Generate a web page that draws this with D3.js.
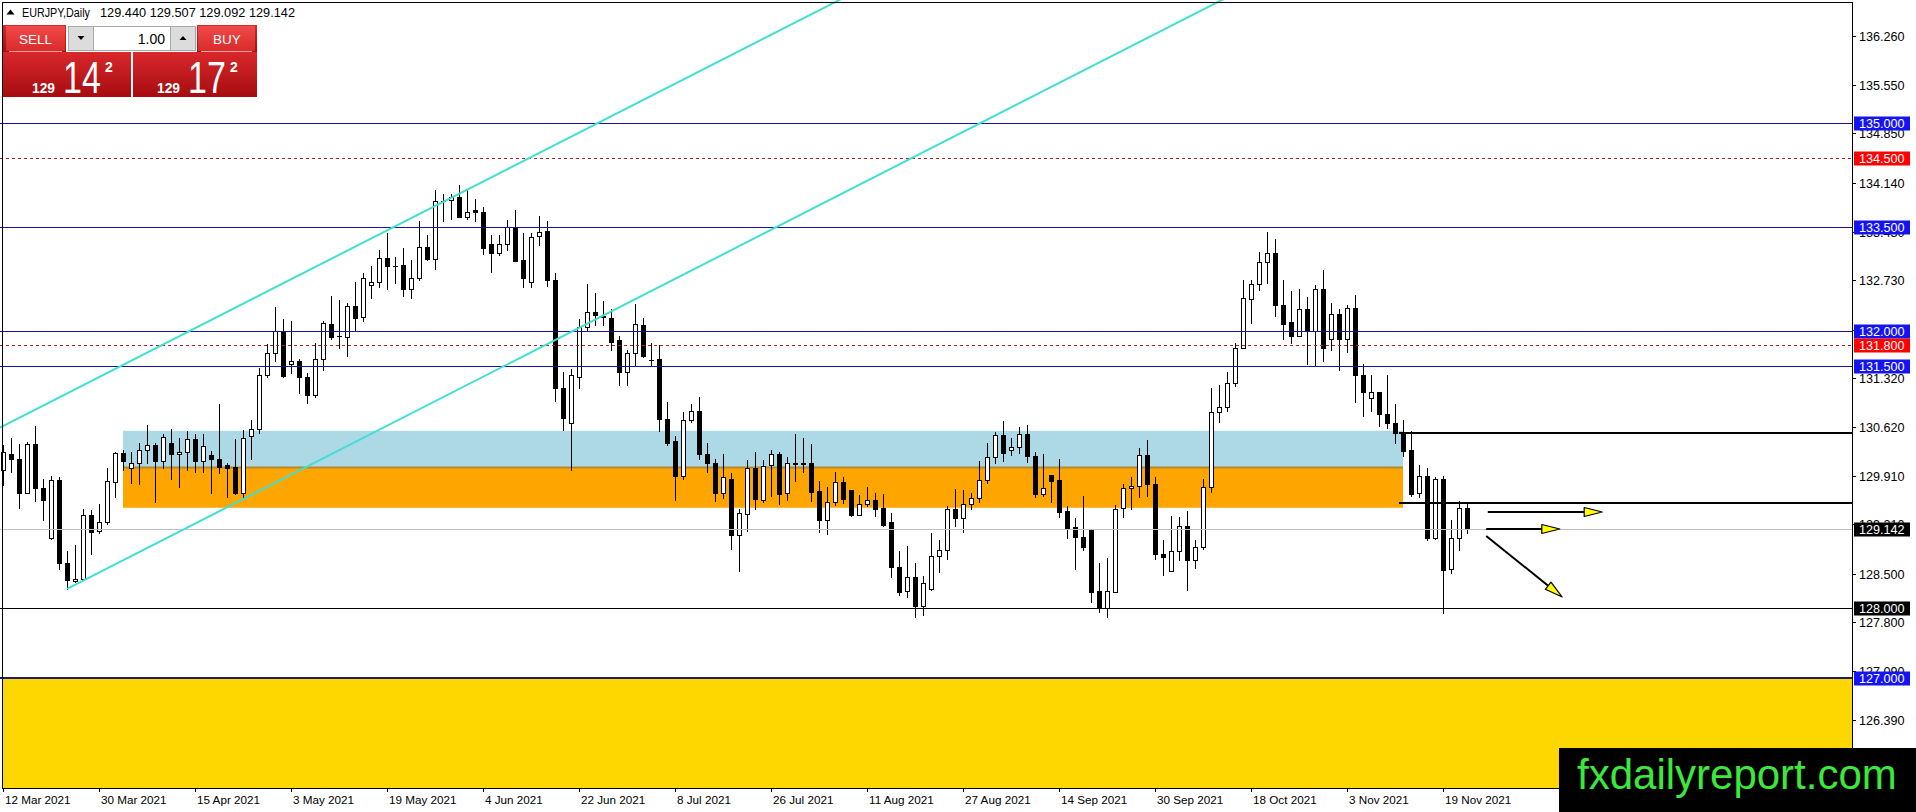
<!DOCTYPE html>
<html><head><meta charset="utf-8">
<script src="https://cdn.jsdelivr.net/npm/d3@7"></script>
<style>
html,body{margin:0;padding:0;background:#fff;overflow:hidden}
svg{display:block}
</style></head><body>
<svg id="chart" width="1916" height="812"></svg>
<script>
// ---------------- DATA ----------------
const symbolName = "EURJPY,Daily";
const lastOHLC = [129.440, 129.507, 129.092, 129.142];

// daily candles, bar 0 = 12 Mar 2021 ... bar 183 = 24 Nov 2021
const openP = [129.99,130.22,130.15,129.67,130.37,129.73,129.01,129.85,128.65,128.40,128.43,129.34,129.11,129.25,129.82,130.24,130.03,130.09,130.28,130.35,
130.12,130.38,130.22,130.26,130.44,130.12,130.21,130.16,130.07,130.04,129.66,130.48,130.58,131.37,131.68,131.98,131.52,131.57,131.33,131.07,
131.59,132.10,131.93,131.91,132.36,132.20,132.66,132.70,133.05,132.94,132.95,132.60,132.77,133.21,133.03,133.88,133.89,133.93,133.64,133.74,
133.71,133.25,133.13,133.25,133.50,133.02,132.70,133.37,133.44,132.74,131.17,130.67,131.34,132.06,132.27,132.22,132.18,131.87,131.41,131.68,
132.09,131.58,131.60,130.73,130.41,129.91,130.72,130.85,130.22,130.10,129.67,129.87,129.06,129.36,130.02,129.56,130.06,130.22,129.66,130.09,
130.09,130.09,129.69,129.28,129.53,129.82,129.71,129.35,129.51,129.56,129.44,129.24,128.59,128.25,128.45,128.04,128.28,128.76,128.84,129.43,
129.30,129.51,129.59,129.85,130.18,130.50,130.29,130.32,130.51,130.20,129.65,129.92,129.85,129.40,129.17,129.03,129.13,128.25,128.00,128.24,
129.44,129.73,129.76,130.21,129.79,128.79,128.54,128.83,129.19,128.70,128.88,129.75,130.83,130.91,131.25,131.76,132.46,132.67,132.99,133.12,
132.38,132.13,131.93,132.31,132.00,132.61,131.88,132.24,131.89,132.33,131.37,131.03,131.12,130.80,130.67,130.52,130.28,129.66,129.91,129.02,
129.86,128.56,129.01,129.440];
const highP = [130.36,130.45,130.37,130.40,130.63,129.87,129.91,129.89,128.83,128.91,129.43,129.42,129.51,130.02,130.25,130.29,130.25,130.38,130.65,130.39,
130.52,130.58,130.46,130.56,130.51,130.51,130.27,130.95,130.10,130.44,130.57,130.72,131.46,131.81,132.35,132.17,132.14,131.60,131.39,131.82,
132.15,132.50,132.45,132.40,132.71,132.83,132.94,133.17,133.41,133.06,133.19,133.02,133.59,133.39,134.03,133.98,133.98,134.10,134.03,133.90,
133.79,133.38,133.38,133.60,133.74,133.41,133.41,133.66,133.58,132.84,131.41,131.45,132.17,132.68,132.55,132.43,132.31,131.93,131.73,132.39,
132.18,131.83,131.80,130.98,130.49,130.83,130.95,131.05,130.38,130.15,130.23,129.95,129.43,130.14,130.25,130.14,130.29,130.25,130.18,130.51,
130.45,130.37,129.83,129.75,129.96,129.90,129.71,129.63,129.75,129.67,129.65,129.37,128.82,128.90,128.65,128.46,129.08,128.98,129.47,129.72,
129.71,129.67,130.12,130.39,130.54,130.70,130.45,130.62,130.65,130.26,130.23,129.92,130.15,129.47,129.30,129.62,129.13,128.65,128.72,129.49,
129.79,129.89,130.31,130.43,129.90,128.99,129.33,129.32,129.40,128.98,129.86,131.17,131.22,131.41,131.83,132.73,132.74,133.14,133.43,133.32,
132.74,132.57,132.61,132.49,132.66,132.88,132.40,132.32,132.37,132.52,131.53,131.37,131.12,131.37,130.95,130.72,130.55,130.07,130.02,129.89,
129.91,129.27,129.55,129.507];
const lowP = [129.78,129.96,129.45,129.66,129.55,129.28,129.00,128.56,128.28,128.38,128.41,128.79,129.08,129.21,129.61,130.00,129.80,129.79,130.10,129.54,
130.02,129.86,129.75,129.99,129.97,129.96,129.67,129.95,129.60,129.65,129.59,130.16,130.53,131.34,131.56,131.34,131.40,131.10,130.96,131.05,
131.44,131.89,131.76,131.64,132.01,132.15,132.47,132.64,132.60,132.69,132.50,132.48,132.73,133.02,132.89,133.58,133.62,133.64,133.62,133.59,
133.11,132.85,133.09,133.17,133.01,132.64,132.63,133.24,132.65,130.99,130.57,130.00,131.17,132.01,132.09,132.09,131.73,131.22,131.22,131.51,
131.63,131.51,130.56,130.36,129.56,129.87,130.68,130.15,129.97,129.55,129.59,128.85,128.54,129.11,129.43,129.54,129.62,129.50,129.56,129.84,
129.97,129.55,129.10,129.07,129.49,129.52,129.33,129.35,129.47,129.33,129.18,128.45,128.19,128.16,127.88,127.90,128.26,128.53,128.71,129.18,
129.10,129.43,129.54,129.81,130.10,130.12,130.21,130.24,130.11,129.61,129.62,129.54,129.31,129.01,128.56,128.84,128.09,127.94,127.87,128.23,
129.32,129.43,129.61,129.62,128.71,128.48,128.54,128.70,128.27,128.58,128.86,129.68,130.69,130.84,131.20,131.76,132.11,132.59,132.69,132.21,
131.88,131.82,131.92,131.52,131.51,131.56,131.72,131.43,131.70,130.97,130.78,130.85,130.63,130.60,130.39,130.19,129.62,129.60,128.98,129.00,
127.93,128.51,128.84,129.092];
const closeP = [130.26,130.15,129.67,130.37,129.74,129.56,129.85,128.65,128.41,128.43,129.34,129.10,129.25,129.83,130.24,130.13,130.09,130.28,130.35,130.12,
130.47,130.22,130.26,130.44,130.12,130.34,130.16,130.04,130.02,129.67,130.45,130.58,131.37,131.68,132.00,131.35,131.57,131.33,131.07,131.59,
132.11,131.91,131.92,132.36,132.19,132.77,132.70,133.05,132.94,132.94,132.61,132.77,133.21,133.03,133.87,133.88,133.93,133.64,133.72,133.71,
133.19,133.13,133.25,133.50,133.01,132.77,133.36,133.42,132.74,131.17,130.75,131.36,132.06,132.27,132.23,132.20,131.84,131.41,131.68,132.10,
131.64,131.58,130.73,130.39,129.91,130.72,130.85,130.22,130.09,129.67,129.89,129.06,129.37,130.02,129.58,130.05,130.22,129.65,130.09,130.08,
130.08,129.68,129.28,129.53,129.82,129.58,129.35,129.51,129.56,129.43,129.20,128.59,128.24,128.45,128.04,128.37,128.76,128.84,129.43,129.30,
129.51,129.59,129.85,130.18,130.50,130.24,130.32,130.51,130.19,129.65,129.73,129.84,129.39,129.16,129.03,128.88,128.23,128.00,128.25,129.43,
129.73,129.76,130.21,129.79,128.78,128.74,128.83,129.19,128.69,128.89,129.75,130.83,130.91,131.25,131.76,132.47,132.67,132.99,133.13,132.38,
132.10,131.93,132.31,132.00,132.61,131.76,132.24,131.89,132.33,131.37,131.12,131.12,130.80,130.67,130.53,130.27,129.65,129.91,129.02,129.86,
128.55,129.01,129.44,129.142];

const timeTickBars = [0,12,24,36,48,60,72,84,96,108,120,132,144,156,168,180];
const timeTickLabels = ["12 Mar 2021","30 Mar 2021","15 Apr 2021","3 May 2021","19 May 2021","4 Jun 2021","22 Jun 2021","8 Jul 2021",
  "26 Jul 2021","11 Aug 2021","27 Aug 2021","14 Sep 2021","30 Sep 2021","18 Oct 2021","3 Nov 2021","19 Nov 2021"];
const priceTicks = [136.260,135.550,134.850,134.140,133.430,132.730,132.020,131.320,130.620,129.910,129.210,128.500,127.800,127.090,126.390];

const blueLevels = [135.0, 133.5, 132.0, 131.5];
const redDottedLevels = [134.5, 131.8];
const floorLevel = 128.0;
const currentPrice = 129.142;
const goldZoneTop = 127.0;
const blueZone = [15, 175, 130.56, 130.03];     // fromBar, toBar, top, bottom
const orangeZone = [15, 175, 130.03, 129.45];
const markerLevels = [130.53, 129.52];           // black rays from bar 174.5
const markerFromBar = 174.5;
const upperChannel = [[-1, 130.57], [120, 137.68]];   // [bar, price]
const lowerChannel = [[8, 128.28], [170, 137.81]];
const arrows = [
  [[185.6, 129.389], [199.9, 129.389]],
  [[185.4, 129.144], [194.6, 129.144]],
  [[185.4, 129.043], [194.9, 128.163]]
];
const labelLevels = [135.0, 134.5, 133.5, 132.0, 131.8, 131.5, 129.142, 128.0, 127.0];
const labelKinds  = ["b","r","b","b","r","b","k","k","b"];
const sellPrice = ["129", "14", "2"];
const buyPrice  = ["129", "17", "2"];
const lotSize = "1.00";

// ---------------- LAYOUT ----------------
const W = 1916, H = 812, plotR = 1852, plotB = 788;
const svg = d3.select("#chart");
const FONT = "'Liberation Sans', Arial, sans-serif";

const x = d3.scaleLinear().domain([-0.375, 231.125]).range([0, plotR]);
const y = d3.scaleLinear().domain([125.409, 136.772]).range([plotB, 0]);

const defs = svg.append("defs");
defs.append("clipPath").attr("id","plotclip").append("rect")
  .attr("x",0).attr("y",0).attr("width",plotR).attr("height",plotB);
const g1 = defs.append("linearGradient").attr("id","boxgrad").attr("x1",0).attr("y1",0).attr("x2",0).attr("y2",1);
g1.append("stop").attr("offset","0%").attr("stop-color","#d8282c");
g1.append("stop").attr("offset","100%").attr("stop-color","#a60c10");
const g2 = defs.append("linearGradient").attr("id","btngrad").attr("x1",0).attr("y1",0).attr("x2",0).attr("y2",1);
g2.append("stop").attr("offset","0%").attr("stop-color","#f04a4a");
g2.append("stop").attr("offset","100%").attr("stop-color","#d92a2a");

svg.append("rect").attr("width",W).attr("height",H).attr("fill","#fff");

const plot = svg.append("g").attr("clip-path","url(#plotclip)");

// zones
function zone(z, color){
  plot.append("rect")
    .attr("x", x(z[0])).attr("width", x(z[1]) - x(z[0]))
    .attr("y", y(z[2])).attr("height", y(z[3]) - y(z[2]))
    .attr("fill", color);
}
zone(blueZone, "#add8e6");
zone(orangeZone, "#ffa500");
plot.append("line")
  .attr("x1", x(orangeZone[0])).attr("x2", x(orangeZone[1]))
  .attr("y1", y(orangeZone[2])).attr("y2", y(orangeZone[2]))
  .attr("stroke","#b5892c").attr("stroke-width",2);

// gold zone
plot.append("rect").attr("x", 2).attr("width", plotR - 2)
  .attr("y", y(goldZoneTop)).attr("height", plotB - y(goldZoneTop)).attr("fill","#ffd700");

// candles
const idx = d3.range(openP.length);
const cg = plot.append("g").attr("shape-rendering","crispEdges");
idx.forEach(i => {
  const cx = Math.round(x(i));
  const o = openP[i], c = closeP[i], h = highP[i], l = lowP[i];
  cg.append("line").attr("x1", cx + 0.5).attr("x2", cx + 0.5)
    .attr("y1", Math.round(y(h))).attr("y2", Math.round(y(l)) + 1)
    .attr("stroke","#000").attr("stroke-width",1);
  const top = Math.round(y(Math.max(o, c))), bot = Math.round(y(Math.min(o, c)));
  if (bot - top < 1) {
    cg.append("rect").attr("x", cx - 2).attr("y", top).attr("width", 5).attr("height", 1).attr("fill","#000");
  } else if (c >= o) {
    cg.append("rect").attr("x", cx - 1.5).attr("y", top + 0.5).attr("width", 4).attr("height", bot - top)
      .attr("fill","#fff").attr("stroke","#000").attr("stroke-width",1);
  } else {
    cg.append("rect").attr("x", cx - 2).attr("y", top).attr("width", 5).attr("height", bot - top + 1).attr("fill","#000");
  }
});

// horizontal levels
const lg = plot.append("g");
function hline(p, color, w, dash, x1){
  lg.append("line").attr("x1", x1 === undefined ? 0 : x1).attr("x2", plotR)
    .attr("y1", Math.round(y(p)) + (w % 2 ? 0.5 : 0)).attr("y2", Math.round(y(p)) + (w % 2 ? 0.5 : 0))
    .attr("stroke", color).attr("stroke-width", w).attr("stroke-dasharray", dash || null);
}
hline(currentPrice, "#c0c0c0", 1);
blueLevels.forEach(p => hline(p, "#15159a", 1));
redDottedLevels.forEach(p => hline(p, "#b8201f", 1, "3,3"));
hline(floorLevel, "#000", 1);
hline(goldZoneTop, "#1c1c78", 2);
markerLevels.forEach(p => hline(p, "#000", 2, null, x(markerFromBar)));

// channel lines
const chLine = d3.line().x(d => x(d[0])).y(d => y(d[1]));
[upperChannel, lowerChannel].forEach(ch => {
  plot.append("path").attr("d", chLine(ch)).attr("fill","none")
    .attr("stroke","#40e0d0").attr("stroke-width",2);
});

// arrows
arrows.forEach(a => {
  const x1 = x(a[0][0]), y1 = y(a[0][1]), x2 = x(a[1][0]), y2 = y(a[1][1]);
  const dx = x2 - x1, dy = y2 - y1, len = Math.hypot(dx, dy);
  const ux = dx / len, uy = dy / len, hl = 18, hw = 4.5;
  const bx = x2 - ux * hl, by = y2 - uy * hl;
  plot.append("line").attr("x1", x1).attr("y1", y1).attr("x2", bx).attr("y2", by)
    .attr("stroke","#000").attr("stroke-width",2);
  plot.append("polygon")
    .attr("points", [[x2, y2], [bx - uy * hw, by + ux * hw], [bx + uy * hw, by - ux * hw]].map(p => p.join(",")).join(" "))
    .attr("fill","#ffff00").attr("stroke","#000").attr("stroke-width",1.2).attr("stroke-linejoin","round");
});

// frame
svg.append("rect").attr("x",2.5).attr("y",2.5).attr("width",plotR - 2).attr("height",plotB - 2)
  .attr("fill","none").attr("stroke","#000").attr("stroke-width",1).attr("shape-rendering","crispEdges");

// price axis
const pa = svg.append("g");
priceTicks.forEach(p => {
  const yy = Math.round(y(p)) + 0.5;
  pa.append("line").attr("x1", plotR).attr("x2", plotR + 4).attr("y1", yy).attr("y2", yy)
    .attr("stroke","#000").attr("shape-rendering","crispEdges");
  pa.append("text").attr("x", plotR + 7).attr("y", yy + 4.3).text(p.toFixed(3))
    .attr("font-family", FONT).attr("font-size", 12.6).attr("fill","#000");
});
const kindColor = {b: "#1414f0", r: "#ff0000", k: "#000000"};
labelLevels.forEach((p, i) => {
  const yy = Math.round(y(p));
  pa.append("rect").attr("x", plotR + 2).attr("y", yy - 6.5).attr("width", 56).attr("height", 14)
    .attr("fill", kindColor[labelKinds[i]]);
  pa.append("text").attr("x", plotR + 7).attr("y", yy + 4.8).text(p.toFixed(3))
    .attr("font-family", FONT).attr("font-size", 12.6).attr("fill","#fff");
});

// time axis
const ta = svg.append("g");
timeTickBars.forEach((b, i) => {
  const xx = Math.round(x(b)) + 0.5;
  ta.append("line").attr("x1", xx).attr("x2", xx).attr("y1", plotB).attr("y2", plotB + 4)
    .attr("stroke","#000").attr("shape-rendering","crispEdges");
  ta.append("text").attr("x", xx + 1.5).attr("y", 804).text(timeTickLabels[i])
    .attr("font-family", FONT).attr("font-size", 11.7).attr("fill","#000");
});

// header
const hd = svg.append("g").attr("font-family", FONT);
hd.append("path").attr("d","M6.5,14.5 L10.5,9.5 L14.5,14.5 Z").attr("fill","#000");
hd.append("text").attr("x", 22).attr("y", 17).text(symbolName).attr("font-size", 12.5)
  .attr("textLength", 68).attr("lengthAdjust","spacingAndGlyphs");
hd.append("text").attr("x", 100).attr("y", 17).text(lastOHLC.map(v => v.toFixed(3)).join(" "))
  .attr("font-size", 12.7).attr("textLength", 195).attr("lengthAdjust","spacingAndGlyphs");

// one-click trading panel
const pn = svg.append("g").attr("font-family", FONT);
pn.append("rect").attr("x",3).attr("y",52).attr("width",128).attr("height",45).attr("fill","url(#boxgrad)");
pn.append("rect").attr("x",133).attr("y",52).attr("width",124).attr("height",45).attr("fill","url(#boxgrad)");
pn.append("rect").attr("x",3).attr("y",25).attr("width",63).attr("height",27).attr("fill","url(#boxgrad)");
pn.append("rect").attr("x",197).attr("y",25).attr("width",60).attr("height",27).attr("fill","url(#boxgrad)");
pn.append("rect").attr("x",6).attr("y",26).attr("width",59).attr("height",25).attr("fill","url(#btngrad)");
pn.append("rect").attr("x",198).attr("y",26).attr("width",57).attr("height",25).attr("fill","url(#btngrad)");
pn.append("line").attr("x1",9).attr("x2",62).attr("y1",51.5).attr("y2",51.5).attr("stroke","#f6a0a0");
pn.append("line").attr("x1",201).attr("x2",252).attr("y1",51.5).attr("y2",51.5).attr("stroke","#f6a0a0");
pn.append("rect").attr("x",68.5).attr("y",26.5).attr("width",25).attr("height",24).attr("fill","#dcdcdc").attr("stroke","#a8a8a8");
pn.append("rect").attr("x",93.5).attr("y",26.5).attr("width",77).attr("height",24).attr("fill","#fff").attr("stroke","#a8a8a8");
pn.append("rect").attr("x",170.5).attr("y",26.5).attr("width",25).attr("height",24).attr("fill","#dcdcdc").attr("stroke","#a8a8a8");
pn.append("path").attr("d","M77.5,36 L84.5,36 L81,40 Z").attr("fill","#000");
pn.append("path").attr("d","M179.5,40 L186.5,40 L183,36 Z").attr("fill","#000");
pn.append("text").attr("x",35.5).attr("y",44).attr("text-anchor","middle").attr("font-size",13.5).attr("fill","#fff").text("SELL");
pn.append("text").attr("x",227).attr("y",44).attr("text-anchor","middle").attr("font-size",13.5).attr("fill","#fff").text("BUY");
pn.append("text").attr("x",165).attr("y",44).attr("text-anchor","end").attr("font-size",14).attr("fill","#000").text(lotSize);
function priceBox(parts, x0){
  pn.append("text").attr("x", x0).attr("y", 93).attr("font-size", 15).attr("font-weight","bold").attr("fill","#fff")
    .attr("textLength", 23).attr("lengthAdjust","spacingAndGlyphs").text(parts[0]);
  pn.append("g").attr("transform", `translate(${x0 + 31},93) scale(1,1.32)`)
    .append("text").attr("x", 0).attr("y", 0).attr("font-size", 34).attr("fill","#fff").text(parts[1]);
  pn.append("text").attr("x", x0 + 73).attr("y", 72).attr("font-size", 14).attr("font-weight","bold").attr("fill","#fff").text(parts[2]);
}
priceBox(sellPrice, 32);
priceBox(buyPrice, 157);

// watermark
svg.append("rect").attr("x",1559).attr("y",748).attr("width",W - 1559).attr("height",H - 748).attr("fill","#000");
svg.append("text").attr("x",1577).attr("y",789).attr("font-family",FONT).attr("font-size",42)
  .attr("fill","#3be83b").text("fxdailyreport.com");
</script>
</body></html>
